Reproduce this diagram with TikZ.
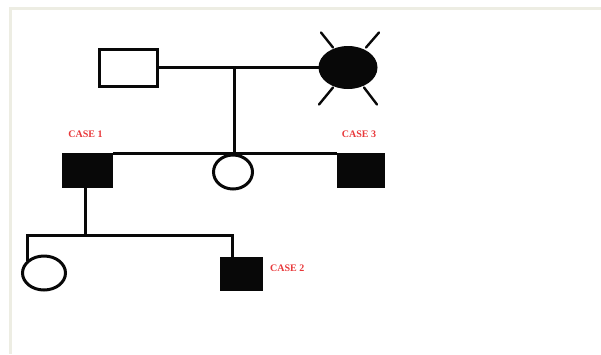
\documentclass[tikz,border=0pt]{standalone}
\usepackage{fontspec}
\setmainfont{Liberation Serif}
\usetikzlibrary{shapes.geometric,calc}
\definecolor{frame}{HTML}{EDEDE3}
\definecolor{ink}{HTML}{080808}
\definecolor{casered}{HTML}{E8383A}
\tikzset{
  ln/.style={line width=3pt, draw=ink},
  male/.style={rectangle, draw=ink, line width=3pt, inner sep=0pt},
  female/.style={ellipse, draw=ink, line width=3pt, inner sep=0pt},
  affected/.style={fill=ink},
  caselabel/.style={text=casered, font=\bfseries\fontsize{10}{10}\selectfont, inner sep=0pt},
  crossln/.style={line width=2.4pt, draw=ink, line cap=round}
}
\begin{document}
\begin{tikzpicture}[x=1pt,y=-1pt]
\useasboundingbox (0,0) rectangle (601,354);
% frame
\draw[frame, line width=3pt] (601,8.5) -- (10.5,8.5) -- (10.5,354);
% generation I
\node[male, minimum width=58pt, minimum height=37pt] (f) at (128.5,67.5) {};
\node[female, affected, minimum width=56pt, minimum height=40pt] (m) at (348,67.5) {};
\draw[crossln] ($(m.center)+(-27,-35)$) -- ($(m.center)+(-15,-20)$);
\draw[crossln] ($(m.center)+(31,-35)$) -- ($(m.center)+(18,-20)$);
\draw[crossln] ($(m.center)+(-29,37)$) -- ($(m.center)+(-15,20)$);
\draw[crossln] ($(m.center)+(29,37)$) -- ($(m.center)+(16,20)$);
\draw[ln] (f.east) -- (m.west);
\coordinate (j) at (234,67.5);
% generation II
\node[male, affected, minimum width=48pt, minimum height=32pt] (c1) at (87.5,170.5) {};
\node[female, minimum width=39pt, minimum height=34pt] (d) at (233,172) {};
\node[male, affected, minimum width=45pt, minimum height=32pt] (c3) at (361,170.5) {};
\draw[ln] (c1.north east) -- (c3.north west);
\draw[ln] (j) -- (j |- d.north);
\node[caselabel] (l1) at (85.5,134) {CASE 1};
\node[caselabel] (l3) at (359,134) {CASE 3};
% generation III
\coordinate (k) at (85,235);
\coordinate (bl) at (27,235);
\coordinate (br) at (232,235);
\node[female, minimum width=43pt, minimum height=34pt] (d2) at (44,273) {};
\node[male, affected, minimum width=40pt, minimum height=31pt] (c2) at (241.5,274) {};
\draw[ln] (k |- c1.south) -- (k);
\draw[ln, line cap=rect] (bl) -- (br);
\draw[ln] (bl) -- (bl |- d2.144);
\draw[ln] (br) -- (br |- c2.north);
\node[caselabel, anchor=west] (l2) at (270,268) {CASE 2};
\end{tikzpicture}
\end{document}
